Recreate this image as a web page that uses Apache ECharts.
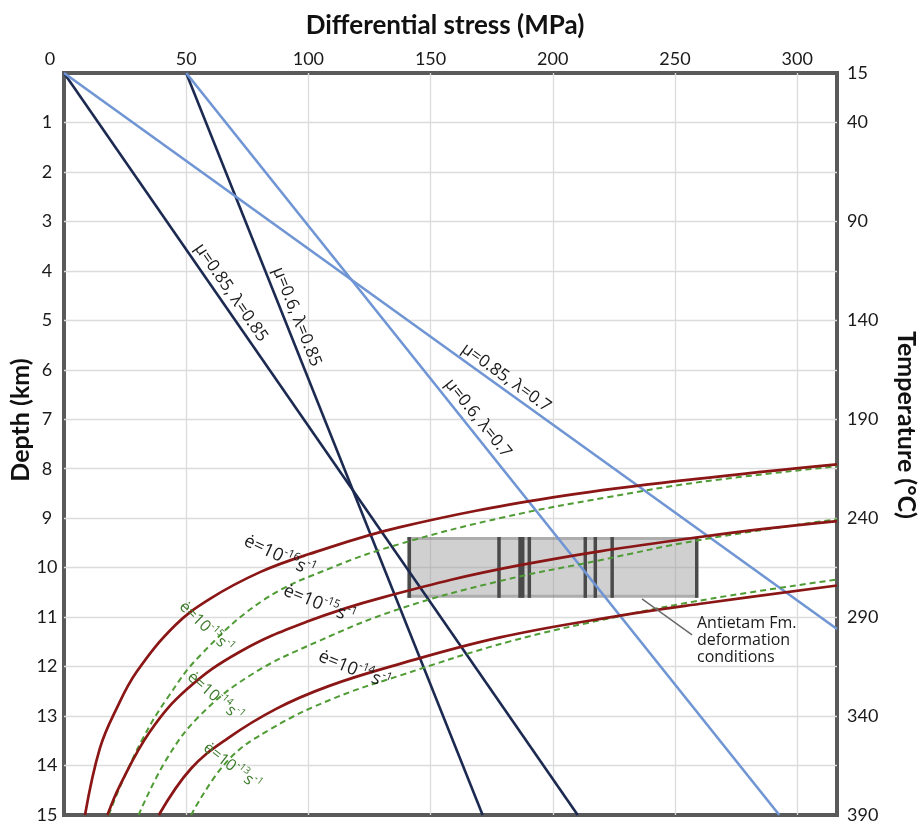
<!DOCTYPE html>
<html><head><meta charset="utf-8">
<script src="https://cdn.jsdelivr.net/npm/echarts@6/dist/echarts.min.js"></script>
<style>html,body{margin:0;padding:0;background:#fff}#c{width:919px;height:824px}</style>
</head><body><div id="c"></div>
<script>
// ---- axis data ----
const stressMax = 316.3;            // MPa at right frame
const depthMax = 15;                // km
const tempLabels = [15, 40, 90, 140, 190, 240, 290, 340, 390]; // °C shown on right axis

// ---- frictional sliding lines [stress MPa, depth km] ----
const fric_mu085_lam085 = [[0, 0], [210.2, 15]];
const fric_mu06_lam085  = [[50, 0], [171.3, 15]];
const fric_mu085_lam07  = [[0, 0], [316.3, 11.24]];
const fric_mu06_lam07   = [[50, 0], [292.7, 15]];

// ---- creep curves (solid, dark red) [stress, depth] ----
const creepRed_1e16 = [[8.6,15],[14.7,13.65],[21.5,12.85],[29.8,12.1],[45.4,11.17],[59.7,10.63],[80.2,10.09],[100,9.73],[137.5,9.18],[200,8.58],[258,8.21],[316.3,7.91]];
const creepRed_1e15 = [[17.8,15],[22.9,14.4],[35.2,13.31],[50.5,12.45],[72,11.7],[99,11.1],[130.5,10.6],[186.6,9.95],[260.2,9.38],[316.3,9.06]];
const creepRed_1e14 = [[38.8,15],[52,14.06],[67,13.45],[87,12.85],[108,12.4],[135,11.98],[178.4,11.41],[227.5,10.97],[262,10.72],[316.3,10.36]];
// ---- creep curves (dashed, green) ----
const creepGrn_1e15 = [[18.3,15],[23.2,14.4],[32.3,13.45],[42.1,12.65],[55.6,11.78],[81.5,10.66],[110,9.99],[137.5,9.52],[180,8.98],[222,8.58],[260.2,8.27],[316.3,7.95]];
const creepGrn_1e14 = [[30.5,15],[42.1,13.86],[55.6,12.99],[76.1,12.18],[103.5,11.5],[137.5,10.83],[178.4,10.27],[219.3,9.85],[260.2,9.44],[316.3,9.02]];
const creepGrn_1e13 = [[52,15],[67,13.9],[85,13.25],[110,12.65],[137.5,12.18],[182.5,11.49],[227.5,10.98],[264.3,10.63],[316.3,10.24]];

// ---- Antietam Fm. deformation conditions ----
const boxStress = [140.3, 259];
const boxDepth = [9.38, 10.61];
const sampleStress = [141.3, 178, 186.6, 187.7, 190.4, 213.3, 217.4, 224.3, 258.9];

const NAVY = '#1c2a52', BLUE = '#6f95d4', RED = '#8a1616', GREEN = '#4f9b34';
const FONT = 'Lato';
const LFONT = 'Open Sans';

const chart = echarts.init(document.getElementById('c'), null, {renderer: 'canvas'});

function lineSeries(name, data, color, width, dashed, smooth) {
  return {
    name, type: 'line', data, showSymbol: false, symbol: 'none',
    smooth: smooth ? 0.4 : false,
    lineStyle: {color, width, type: dashed ? [6, 4] : 'solid', cap: 'butt'},
    z: 4, silent: true, animation: false
  };
}

const option = {
  animation: false,
  grid: {left: 64, top: 73, width: 773, height: 743.5, show: true, borderColor: '#5a5a5a', borderWidth: 4, containLabel: false},
  xAxis: {
    type: 'value', position: 'top', min: 0, max: stressMax, interval: 50,
    axisLine: {show: false}, axisTick: {show: false},
    axisLabel: {
      fontFamily: FONT, fontSize: 18, color: '#1a1a1a', margin: 5,
      formatter: v => v === 0 ? '{z|0}' : (v % 50 === 0 ? String(v) : ''),
      rich: {z: {fontFamily: FONT, fontSize: 18, color: '#1a1a1a', padding: [0, 28, 0, 0]}}
    },
    splitLine: {show: true, showMinLine: false, showMaxLine: false, lineStyle: {color: '#dcdcdc', width: 1.3}}
  },
  yAxis: [{
    type: 'value', inverse: true, min: 0, max: depthMax, interval: 1,
    axisLine: {show: false}, axisTick: {show: false},
    axisLabel: {fontFamily: FONT, fontSize: 18, color: '#1a1a1a', margin: 17, align: 'center',
      formatter: v => v === 0 ? '' : String(v)},
    splitLine: {show: true, showMinLine: false, showMaxLine: false, lineStyle: {color: '#dcdcdc', width: 1.3}}
  }, {
    type: 'value', inverse: true, position: 'right', min: tempLabels[0], max: tempLabels[tempLabels.length - 1], interval: 25,
    axisLine: {show: false}, axisTick: {show: false}, splitLine: {show: false},
    axisLabel: {fontFamily: FONT, fontSize: 18, color: '#1a1a1a', margin: 10, align: 'left',
      formatter: v => tempLabels.indexOf(v) >= 0 ? String(v) : ''}
  }],
  series: [
    {
      name: 'box', type: 'custom', z: 1, silent: true,
      encode: {x: [0, 2], y: [1, 3]},
      data: [[boxStress[0], boxDepth[0], boxStress[1], boxDepth[1]]],
      renderItem: (params, api) => {
        const p1 = api.coord([api.value(0), api.value(1)]);
        const p2 = api.coord([api.value(2), api.value(3)]);
        return {type: 'group', children: [
          {type: 'rect', shape: {x: p1[0], y: p1[1], width: p2[0] - p1[0], height: p2[1] - p1[1]}, style: {fill: 'rgba(150,150,150,0.45)'}},
          {type: 'line', shape: {x1: p1[0], y1: p1[1] + 1.5, x2: p2[0], y2: p1[1] + 1.5}, style: {stroke: 'rgba(110,110,110,0.35)', lineWidth: 3}},
          {type: 'line', shape: {x1: p1[0], y1: p2[1] - 1.5, x2: p2[0], y2: p2[1] - 1.5}, style: {stroke: 'rgba(110,110,110,0.35)', lineWidth: 3}}
        ]};
      }
    },
    {
      name: 'samples', type: 'custom', z: 2, silent: true,
      encode: {x: [0, 2], y: [1, 3]},
      data: sampleStress.map(s => [s, boxDepth[0], s, boxDepth[1]]),
      renderItem: (params, api) => {
        const p1 = api.coord([api.value(0), api.value(1)]);
        const p2 = api.coord([api.value(2), api.value(3)]);
        return {type: 'line', shape: {x1: p1[0], y1: p1[1], x2: p2[0], y2: p2[1]}, style: {stroke: '#4a4a4a', lineWidth: 3.5}};
      }
    },
    lineSeries('μ=0.85, λ=0.85', fric_mu085_lam085, NAVY, 2.6),
    lineSeries('μ=0.6, λ=0.85', fric_mu06_lam085, NAVY, 2.6),
    lineSeries('μ=0.85, λ=0.7', fric_mu085_lam07, BLUE, 2.6),
    lineSeries('μ=0.6, λ=0.7', fric_mu06_lam07, BLUE, 2.6),
    lineSeries('green 1e-15', creepGrn_1e15, GREEN, 2, true, true),
    lineSeries('green 1e-14', creepGrn_1e14, GREEN, 2, true, true),
    lineSeries('green 1e-13', creepGrn_1e13, GREEN, 2, true, true),
    lineSeries('red 1e-16', creepRed_1e16, RED, 2.7, false, true),
    lineSeries('red 1e-15', creepRed_1e15, RED, 2.7, false, true),
    lineSeries('red 1e-14', creepRed_1e14, RED, 2.7, false, true)
  ]
};
chart.setOption(option);

// ---- annotations positioned in data coordinates ----
const px = p => chart.convertToPixel({gridIndex: 0}, p);
function angleOf(line) {
  const a = px(line[0]), b = px(line[1]);
  return -Math.atan2(b[1] - a[1], b[0] - a[0]);
}
const deg = d => d * Math.PI / 180;

function plainLabel(text, at, rot) {
  const p = px(at);
  return {type: 'text', x: p[0], y: p[1], rotation: rot, z: 10, silent: true,
    style: {text, fontFamily: LFONT, fontSize: 17, fill: '#1a1a1a', align: 'center', verticalAlign: 'middle'}};
}
function rateLabel(exp, at, rotDeg, green) {
  const p = px(at);
  const col = green ? '#3b7a2a' : '#1a1a1a';
  const fs = green ? 16 : 18;
  return {type: 'text', x: p[0], y: p[1], rotation: deg(rotDeg), z: 10, silent: true,
    style: {text: '{m|ė=10}{s|' + exp + '}{m|s}{s|-1}', align: 'center', verticalAlign: 'middle',
      rich: {
        m: {fontFamily: LFONT, fontSize: fs, fill: col, color: col, lineHeight: fs + 3, verticalAlign: 'bottom'},
        s: {fontFamily: LFONT, fontSize: fs * 0.62, fill: col, color: col, lineHeight: 11, verticalAlign: 'top'}
      }}};
}

const leadA = px([236.5, 10.63]), leadB = px([257, 11.36]);
const noteAt = px([259, 10.95]);

chart.setOption({graphic: [
  // axis titles
  {type: 'text', x: 445, y: 26, z: 10, style: {text: 'Differential stress (MPa)', fontFamily: FONT, fontWeight: 'bold', fontSize: 26, fill: '#111', align: 'center', verticalAlign: 'middle'}},
  {type: 'text', x: 21, y: 420, rotation: Math.PI / 2, z: 10, style: {text: 'Depth (km)', fontFamily: FONT, fontWeight: 'bold', fontSize: 25, fill: '#111', align: 'center', verticalAlign: 'middle'}},
  {type: 'text', x: 906, y: 425, rotation: -Math.PI / 2, z: 10, style: {text: 'Temperature (°C)', fontFamily: FONT, fontWeight: 'bold', fontSize: 25, fill: '#111', align: 'center', verticalAlign: 'middle'}},
  // friction line labels
  plainLabel('μ=0.85, λ=0.85', [68.3, 4.44], angleOf(fric_mu085_lam085)),
  plainLabel('μ=0.6, λ=0.85', [95.3, 4.93], angleOf(fric_mu06_lam085)),
  plainLabel('μ=0.85, λ=0.7', [180.9, 6.16], angleOf(fric_mu085_lam07)),
  plainLabel('μ=0.6, λ=0.7', [169.4, 6.98], angleOf(fric_mu06_lam07)),
  // strain-rate labels
  rateLabel('-16', [88.4, 9.74], -25, false),
  rateLabel('-15', [104.7, 10.71], -22, false),
  rateLabel('-14', [119, 12.04], -22, false),
  rateLabel('-15', [58.5, 11.19], -44, true),
  rateLabel('-14', [62.2, 12.59], -41, true),
  rateLabel('-13', [69.1, 14.0], -38, true),
  // Antietam annotation
  {type: 'line', z: 10, shape: {x1: leadA[0], y1: leadA[1], x2: leadB[0], y2: leadB[1]}, style: {stroke: '#6a6a6a', lineWidth: 1.5}},
  {type: 'text', x: noteAt[0], y: noteAt[1], z: 10, style: {text: 'Antietam Fm.\ndeformation\nconditions', fontFamily: LFONT, fontSize: 16, lineHeight: 17, fill: '#1a1a1a', align: 'left', verticalAlign: 'top'}}
]});
</script></body></html>
